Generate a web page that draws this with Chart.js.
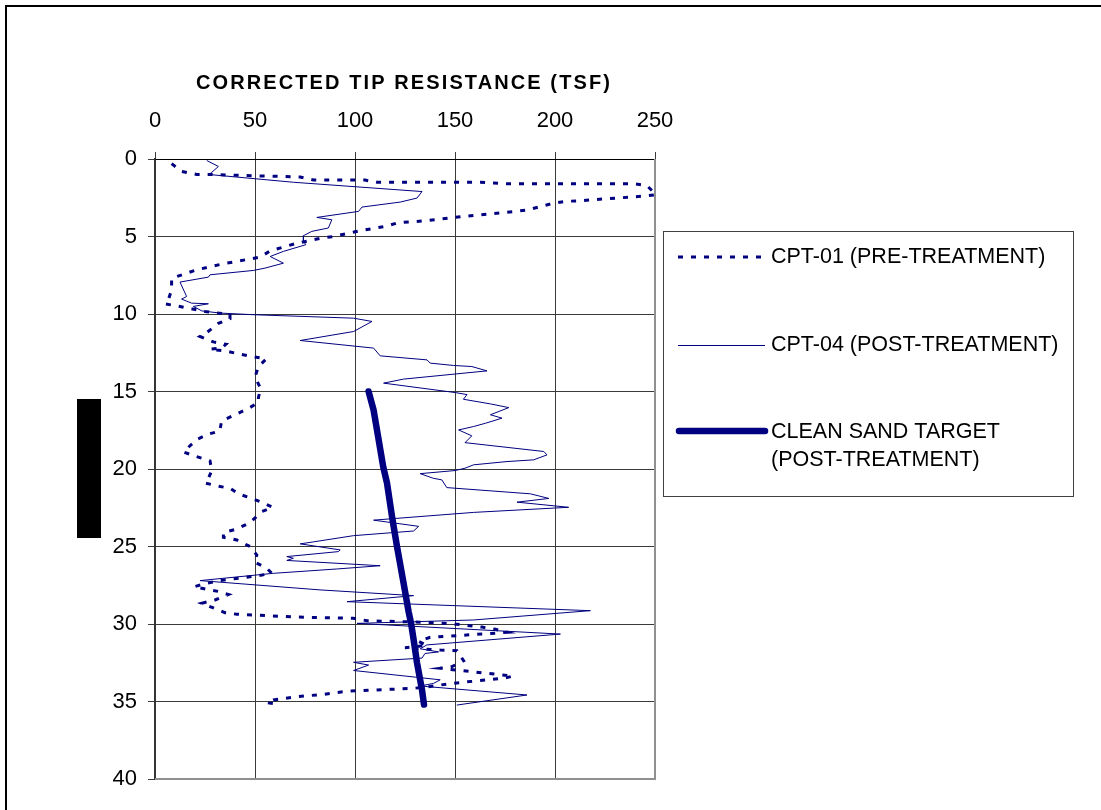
<!DOCTYPE html>
<html lang="en">
<head>
    <meta charset="UTF-8">
    <title>Corrected Tip Resistance</title>
    <script src="https://cdn.jsdelivr.net/npm/chart.js"></script>
    <style>
        body {
            margin: 0;
            padding: 0;
            background: #ffffff;
        }
        #chart {
            display: block;
        }
    </style>
</head>
<body>
    <canvas id="chart" width="1101" height="810"></canvas>

    <script>
        // depth (ft) and tip resistance (tsf)
        const cpt01Depth = [0.3, 0.8, 1.0, 1.0, 1.16, 1.36, 1.36, 1.5, 1.5, 1.55, 1.6, 1.6, 1.72, 2.3, 2.4, 2.58, 2.69, 2.73, 2.85, 3.1, 3.3, 3.55, 3.7, 3.8, 4.0, 4.1, 4.35, 4.63, 5.0, 5.12, 5.47, 5.92, 6.33, 6.78, 7.15, 7.7, 8.44, 9.08, 9.34, 9.5, 9.84, 9.94, 10.0, 10.3, 10.6, 11.2, 11.45, 11.8, 11.95, 12.2, 12.27, 12.4, 12.57, 12.74, 12.9, 13.4, 14.07, 14.8, 15.4, 15.7, 16.1, 16.9, 17.55, 17.75, 18.1, 18.9, 19.2, 19.48, 20.1, 20.6, 20.9, 21.1, 21.24, 21.6, 21.8, 22.1, 22.47, 22.75, 23.46, 23.87, 24.1, 24.4, 24.58, 25.0, 25.55, 26.0, 26.4, 26.73, 26.88, 27.2, 27.37, 27.6, 27.9, 28.1, 28.45, 28.66, 29.27, 29.37, 29.55, 29.63, 29.79, 29.9, 30.02, 30.2, 30.34, 30.54, 30.86, 31.12, 31.38, 31.53, 31.68, 31.72, 32.37, 32.75, 32.86, 33.36, 33.5, 33.83, 34.06, 34.15, 34.33, 34.54, 34.69, 34.9, 35.08, 35.18];
        const cpt01Tip = [8.3, 13.3, 20.9, 26.7, 72.6, 79.3, 105, 111, 162.7, 169.3, 176, 239.4, 246, 250.5, 244, 224.4, 212.7, 206, 199.3, 191.8, 186, 166.8, 154.3, 147.6, 134.3, 121.8, 115, 102.6, 89.2, 82.6, 70, 57.6, 52.6, 33.4, 20.8, 8.3, 8.3, 6.7, 5, 11.7, 25, 30.7, 37.5, 37.5, 31.7, 25.9, 22.5, 29.2, 35.5, 33.4, 27.5, 35.9, 41.7, 48.4, 55.6, 51.7, 50, 52.8, 51.7, 51.7, 46.7, 33.3, 32.4, 26.7, 20.8, 14.2, 20.8, 27.5, 28.4, 26.7, 25, 31.2, 37.5, 41.7, 46.2, 52.6, 58.9, 53.4, 47.5, 40.9, 34.2, 34.2, 40.9, 47.5, 50.9, 49.7, 55.9, 58.4, 51.7, 32.2, 25.9, 19.5, 31.7, 36.7, 30, 23.4, 35, 40.9, 70, 99.2, 106, 137.6, 151, 163.5, 170.2, 176, 137.6, 131.8, 135.9, 125, 142.6, 151, 154.3, 148.5, 142.6, 179, 174.3, 148.5, 135.8, 129.3, 96.7, 84.2, 70.9, 59.2, 55.9, 61.7];

        const cpt04Depth = [0.1, 0.48, 0.86, 1.0, 1.5, 2.1, 2.52, 2.78, 3.1, 3.38, 3.77, 3.92, 4.45, 4.67, 4.95, 5.3, 5.53, 5.96, 6.29, 6.72, 7.04, 7.19, 7.47, 7.62, 7.94, 8.87, 9.04, 9.3, 9.34, 9.51, 9.8, 9.94, 10.05, 10.27, 10.48, 11.13, 11.71, 12.2, 12.7, 12.96, 13.17, 13.32, 13.39, 13.67, 14.2, 14.46, 15.07, 15.2, 15.5, 15.8, 16.04, 16.5, 16.72, 17.05, 17.26, 17.48, 17.86, 18.3, 18.87, 19.09, 19.41, 19.52, 19.73, 19.95, 20.1, 20.3, 20.6, 20.7, 21.2, 21.6, 21.9, 22.14, 22.47, 22.8, 23.3, 23.7, 24.0, 24.3, 24.7, 24.83, 25.22, 25.33, 25.65, 25.76, 25.9, 26.24, 26.45, 26.73, 27.2, 27.8, 28.17, 28.56, 29.14, 29.74, 29.96, 30.65, 31.35, 31.6, 31.8, 31.9, 32.2, 32.47, 32.65, 33.0, 33.6, 33.83, 34.0, 34.58, 35.23];
        const cpt04Tip = [25.9, 31.7, 28.4, 27, 69.2, 133.5, 131, 122.6, 103.5, 101.8, 80.9, 88.4, 86.7, 78.4, 74.2, 74.2, 75.4, 64.2, 57.6, 64.2, 55, 49.2, 27.5, 26.7, 12.5, 15.8, 13.3, 18.3, 26.7, 19.2, 23.4, 32.5, 50, 99.3, 108.5, 99.3, 72.6, 109.3, 112.6, 136, 137.6, 149.3, 158.4, 166, 124.3, 114.3, 150.2, 156, 154.2, 167.7, 176.9, 167.7, 173.5, 165.2, 159.3, 151.8, 158.4, 155, 194.4, 196, 189.3, 176, 159.3, 155, 150, 132.6, 139.2, 143.4, 145.9, 187.7, 196.9, 181, 206.8, 159.3, 109.3, 131.8, 129.3, 99.3, 79.3, 72.6, 92.6, 91.7, 65.9, 69.2, 65.9, 112.6, 90.9, 59.2, 22.5, 82.5, 129.3, 96, 217.7, 159.3, 101, 202.7, 135.9, 132.6, 141.8, 135, 133.5, 99.3, 106.8, 99.3, 142.6, 139.3, 132.6, 186, 150.9];

        const targetDepth = [15.0, 16.2, 18.1, 19.85, 20.9, 23.07, 25.0, 27.37, 29.2, 30.0, 31.0, 32.5, 34.25, 35.2];
        const targetTip = [106.8, 109.3, 111.8, 114.1, 116, 118.5, 121, 124.3, 126.8, 128.1, 129.3, 131, 133.5, 134.5];

        const xTicks = [0, 50, 100, 150, 200, 250];
        const yTicks = [0, 5, 10, 15, 20, 25, 30, 35, 40];

        const seriesNames = ["CPT-01 (PRE-TREATMENT)", "CPT-04 (POST-TREATMENT)", ["CLEAN SAND TARGET", "(POST-TREATMENT)"]];
        const axisTitle = "CORRECTED TIP RESISTANCE (TSF)";

        const navy = "#000080";

        function toPoints(depths, tips) {
            return depths.map((d, i) => ({ x: tips[i], y: d }));
        }

        // frame, hidden label box, title and legend
        const extras = {
            id: "extras",
            afterDraw(chart) {
                const ctx = chart.ctx;
                const area = chart.chartArea;
                ctx.save();

                // right and bottom plot border
                ctx.strokeStyle = "#909090";
                ctx.lineWidth = 2;
                ctx.beginPath();
                ctx.moveTo(area.right, area.top);
                ctx.lineTo(area.right, area.bottom);
                ctx.lineTo(area.left, area.bottom);
                ctx.stroke();

                // outer frame (top and left)
                ctx.fillStyle = "#000";
                ctx.fillRect(5, 5, 1096, 2);
                ctx.fillRect(5, 5, 2, 805);

                // black box over the depth title
                ctx.fillRect(77, 399, 24, 139);

                // axis title
                ctx.font = "bold 20px 'Liberation Sans', Arial, sans-serif";
                ctx.letterSpacing = "2.1px";
                ctx.textBaseline = "alphabetic";
                ctx.textAlign = "left";
                ctx.fillText(axisTitle, 196, 89);
                ctx.letterSpacing = "0px";

                // legend
                ctx.strokeStyle = "#404040";
                ctx.lineWidth = 1;
                ctx.strokeRect(663.5, 231.5, 410, 265);

                ctx.strokeStyle = navy;
                ctx.lineWidth = 3;
                ctx.setLineDash([5, 8]);
                ctx.beginPath();
                ctx.moveTo(678, 257);
                ctx.lineTo(762, 257);
                ctx.stroke();
                ctx.setLineDash([]);

                ctx.lineWidth = 1;
                ctx.beginPath();
                ctx.moveTo(678, 345.5);
                ctx.lineTo(765, 345.5);
                ctx.stroke();

                ctx.lineWidth = 6.5;
                ctx.lineCap = "round";
                ctx.beginPath();
                ctx.moveTo(679, 431);
                ctx.lineTo(765, 431);
                ctx.stroke();

                ctx.fillStyle = "#000";
                ctx.font = "21.5px 'Liberation Sans', Arial, sans-serif";
                ctx.textBaseline = "middle";
                ctx.fillText(seriesNames[0], 771, 257);
                ctx.fillText(seriesNames[1], 771, 345);
                ctx.fillText(seriesNames[2][0], 771, 432);
                ctx.fillText(seriesNames[2][1], 771, 460);

                ctx.restore();
            }
        };

        new Chart(document.getElementById("chart"), {
            type: "scatter",
            data: {
                datasets: [
                    {
                        label: seriesNames[0],
                        data: toPoints(cpt01Depth, cpt01Tip),
                        showLine: true,
                        borderColor: navy,
                        borderWidth: 3,
                        borderDash: [5, 8],
                        pointRadius: 0,
                        order: 2
                    },
                    {
                        label: seriesNames[1],
                        data: toPoints(cpt04Depth, cpt04Tip),
                        showLine: true,
                        borderColor: navy,
                        borderWidth: 1,
                        pointRadius: 0,
                        order: 1
                    },
                    {
                        label: seriesNames[2].join(" "),
                        data: toPoints(targetDepth, targetTip),
                        showLine: true,
                        borderColor: navy,
                        borderWidth: 6.5,
                        borderCapStyle: "round",
                        borderJoinStyle: "round",
                        pointRadius: 0,
                        order: 0
                    }
                ]
            },
            options: {
                responsive: false,
                animation: false,
                devicePixelRatio: 1,
                layout: { padding: { left: 0, top: 0, right: 446, bottom: 31 } },
                plugins: {
                    legend: { display: false },
                    tooltip: { enabled: false }
                },
                scales: {
                    x: {
                        type: "linear",
                        position: "top",
                        min: xTicks[0],
                        max: xTicks[xTicks.length - 1],
                        afterBuildTicks: scale => { scale.ticks = xTicks.map(v => ({ value: v })); },
                        afterFit: scale => { scale.height = 159; },
                        ticks: {
                            color: "#000",
                            padding: 18,
                            font: { family: "'Liberation Sans', Arial, sans-serif", size: 22 }
                        },
                        grid: { color: "#3a3a3a", lineWidth: 1, tickLength: 7 },
                        border: { color: "#000", width: 1 }
                    },
                    y: {
                        type: "linear",
                        reverse: true,
                        min: yTicks[0],
                        max: yTicks[yTicks.length - 1],
                        afterBuildTicks: scale => { scale.ticks = yTicks.map(v => ({ value: v })); },
                        afterFit: scale => { scale.width = 155; },
                        ticks: {
                            color: "#000",
                            padding: 11,
                            font: { family: "'Liberation Sans', Arial, sans-serif", size: 22 }
                        },
                        grid: { color: "#3a3a3a", lineWidth: 1, tickLength: 7 },
                        border: { color: "#333", width: 1.5 }
                    }
                }
            },
            plugins: [extras]
        });
    </script>
</body>
</html>
